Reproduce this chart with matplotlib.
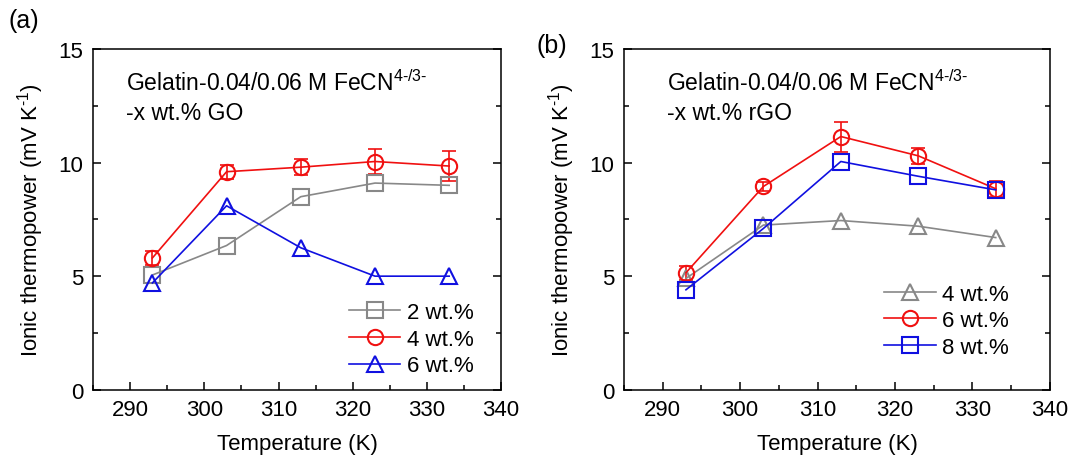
import matplotlib
matplotlib.use("Agg")
import matplotlib.pyplot as plt
from matplotlib.ticker import MultipleLocator

plt.rcParams['font.family'] = ['Liberation Sans', 'DejaVu Sans']
plt.rcParams['mathtext.fontset'] = 'custom'
plt.rcParams['mathtext.rm'] = 'Liberation Sans'
plt.rcParams['mathtext.default'] = 'regular'

temps = [293, 303, 313, 323, 333]

# (a) GO loading
go_2 = [5.05, 6.35, 8.5, 9.1, 9.0]
go_4 = [5.8, 9.6, 9.8, 10.05, 9.85]
go_4_err = [0.3, 0.3, 0.35, 0.57, 0.65]
go_6 = [4.7, 8.1, 6.25, 5.0, 5.0]

# (b) rGO loading
rgo_4 = [4.9, 7.25, 7.45, 7.2, 6.7]
rgo_6 = [5.15, 8.95, 11.15, 10.3, 8.85]
rgo_6_err = [0.3, 0.2, 0.66, 0.35, 0.35]
rgo_8 = [4.4, 7.1, 10.05, 9.4, 8.8]

GRAY = '#888888'
RED = '#f01010'
BLUE = '#1010e0'
FS = 16

fig = plt.figure(figsize=(10.74, 4.64), dpi=100)
ax1 = fig.add_axes([0.0866, 0.158, 0.380, 0.734])
ax2 = fig.add_axes([0.581, 0.158, 0.3966, 0.734])

mk = dict(markersize=11, markeredgewidth=1.5, markerfacecolor='none', linewidth=1.2)
eb = dict(fmt='none', capsize=5, elinewidth=1.2, capthick=1.2)
note = 'Gelatin-0.04/0.06 M FeCN$^{4\\text{-}/3\\text{-}}$\n-x wt.% '
leg = dict(loc='lower right', frameon=False, fontsize=FS, handlelength=2.3,
           handletextpad=0.3, labelspacing=0.25, borderaxespad=0.2)


def style(ax):
    ax.set_xlim(285, 340)
    ax.set_ylim(0, 15)
    ax.xaxis.set_major_locator(MultipleLocator(10))
    ax.xaxis.set_minor_locator(MultipleLocator(5))
    ax.yaxis.set_major_locator(MultipleLocator(5))
    ax.yaxis.set_minor_locator(MultipleLocator(2.5))
    ax.tick_params(which='both', direction='in', top=False, right=True,
                   labelsize=FS, width=1.1)
    ax.tick_params(which='major', length=6, pad=7)
    ax.tick_params(which='minor', length=3.5)
    for s in ax.spines.values():
        s.set_linewidth(1.1)
    ax.set_xlabel('Temperature (K)', fontsize=FS, labelpad=9)
    ax.set_ylabel('Ionic thermopower (mV K$^{\\text{-}1}$)', fontsize=FS, labelpad=9)


ax1.errorbar(temps, go_4, yerr=go_4_err, ecolor=RED, **eb)
l2, = ax1.plot(temps, go_2, '-s', color=GRAY, label='2 wt.%', **mk)
l4, = ax1.plot(temps, go_4, '-o', color=RED, label='4 wt.%', **mk)
l6, = ax1.plot(temps, go_6, '-^', color=BLUE, label='6 wt.%', **mk)
style(ax1)
ax1.text(0.08, 0.94, note + 'GO', transform=ax1.transAxes, fontsize=16.5,
         va='top', linespacing=1.3)
ax1.legend([l2, l4, l6], ['2 wt.%', '4 wt.%', '6 wt.%'],
           bbox_to_anchor=(0.965, 0.0), **leg)
fig.text(0.008, 0.94, '(a)', fontsize=18)

ax2.errorbar(temps, rgo_6, yerr=rgo_6_err, ecolor=RED, **eb)
m4, = ax2.plot(temps, rgo_4, '-^', color=GRAY, label='4 wt.%', **mk)
m6, = ax2.plot(temps, rgo_6, '-o', color=RED, label='6 wt.%', **mk)
m8, = ax2.plot(temps, rgo_8, '-s', color=BLUE, label='8 wt.%', **mk)
style(ax2)
ax2.text(0.1, 0.94, note + 'rGO', transform=ax2.transAxes, fontsize=16.5,
         va='top', linespacing=1.3)
ax2.legend([m4, m6, m8], ['4 wt.%', '6 wt.%', '8 wt.%'],
           bbox_to_anchor=(0.935, 0.055), **leg)
fig.text(0.5, 0.885, '(b)', fontsize=18)

fig.savefig('out.png', dpi=100)
